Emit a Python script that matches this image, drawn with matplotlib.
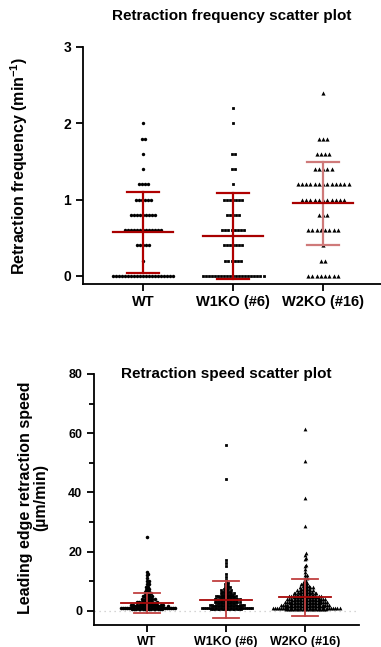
import numpy as np
import matplotlib
matplotlib.use('Agg')
import matplotlib.pyplot as plt

plt.rcParams['font.family'] = ['Liberation Sans', 'DejaVu Sans']
plt.rcParams['font.weight'] = 'bold'
plt.rcParams['axes.labelweight'] = 'bold'
plt.rcParams['mathtext.fontset'] = 'custom'
plt.rcParams['mathtext.rm'] = 'Liberation Sans:bold'
plt.rcParams['mathtext.default'] = 'rm'

groups = ['WT', 'W1KO (#6)', 'W2KO (#16)']
markers = ['o', 's', '^']

# retraction frequency (min^-1): value levels and how many cells sit on each
freq_levels = [0.0, 0.2, 0.4, 0.6, 0.8, 1.0, 1.2, 1.4, 1.6, 1.8, 2.0, 2.2, 2.4]
wt_freq_counts = [21, 1, 5, 13, 9, 6, 4, 1, 1, 2, 1, 0, 0]
w1_freq_counts = [21, 6, 7, 8, 5, 7, 1, 2, 2, 0, 1, 1, 0]
w2_freq_counts = [8, 2, 1, 8, 3, 11, 13, 5, 4, 3, 0, 0, 1]
freq_mean = [0.57, 0.52, 0.95]
freq_sd_lo = [0.04, -0.04, 0.40]
freq_sd_hi = [1.10, 1.09, 1.49]

# retraction speed (um/min)
wt_speed_vals = [0.5, 1, 1.5, 2, 2.5, 3, 3.5, 4, 4.5, 5, 5.5, 6, 6.5, 7, 7.5, 8,
                 9, 10, 11, 12, 12.5, 13, 25]
wt_speed_counts = [15, 21, 16, 10, 8, 7, 5, 5, 4, 4, 3, 3, 3, 2, 2, 2,
                   2, 2, 1, 1, 1, 1, 1]
w1_speed_vals = [0.5, 1, 1.5, 2, 2.5, 3, 3.5, 4, 4.5, 5, 5.5, 6, 6.5, 7, 7.5, 8,
                 8.5, 9, 9.5, 10.5, 11.5, 12.5, 15, 16, 17, 44.5, 56]
w1_speed_counts = [15, 19, 14, 11, 9, 9, 9, 9, 8, 7, 6, 5, 5, 4, 3, 3,
                   2, 2, 2, 1, 1, 1, 1, 1, 1, 1, 1]
w2_speed_vals = [0.5, 1, 1.5, 2, 2.5, 3, 3.5, 4, 4.5, 5, 5.5, 6, 6.5, 7, 7.5, 8,
                 8.5, 9, 9.5, 10, 11, 12, 13, 14, 15, 15.5, 17.5, 18, 19, 19.5,
                 28.5, 38, 50.5, 61.5]
w2_speed_counts = [20, 24, 19, 16, 15, 15, 14, 13, 12, 11, 9, 8, 7, 6, 5, 5,
                   4, 3, 3, 2, 2, 2, 1, 1, 1, 1, 1, 1, 1, 1,
                   1, 1, 1, 1]
speed_mean = [2.7, 3.8, 4.5]
speed_sd_lo = [-0.7, -2.5, -1.8]
speed_sd_hi = [6.1, 10.1, 10.6]

W, H = 381, 647
fig = plt.figure(figsize=(W / 100, H / 100), dpi=100)


def px_scale(ax):
    pos = ax.get_position()
    x0, x1 = ax.get_xlim()
    y0, y1 = ax.get_ylim()
    return pos.width * W / (x1 - x0), pos.height * H / (y1 - y0)


def row_offsets(values, spacing):
    # GraphPad style: each value level gets a centred row
    out = np.zeros(len(values))
    for v in np.unique(values):
        idx = np.where(values == v)[0]
        n = len(idx)
        out[idx] = (np.arange(n) - (n - 1) / 2) * spacing
    return out


def swarm_offsets(ypx, d):
    order = np.argsort(ypx)
    xs = np.zeros(len(ypx))
    placed_x, placed_y = [], []
    step = d / 3
    for i in order:
        y = ypx[i]
        px = np.array(placed_x)
        py = np.array(placed_y)
        near = np.abs(py - y) < d if len(py) else np.array([], bool)
        nx, ny = px[near], py[near]
        k = 0
        while True:
            for cand in ([0.0] if k == 0 else [k * step, -k * step]):
                if len(nx) == 0 or np.all((nx - cand) ** 2 + (ny - y) ** 2 >= d * d):
                    xs[i] = cand
                    break
            else:
                k += 1
                continue
            break
        placed_x.append(xs[i])
        placed_y.append(y)
    return xs


def style_axes(ax):
    for s in ['top', 'right']:
        ax.spines[s].set_visible(False)
    for s in ['left', 'bottom']:
        ax.spines[s].set_linewidth(1.3)
    ax.tick_params(width=1.3, length=5)
    ax.set_xticks(range(3))
    ax.set_xticklabels(groups)


def error_bars(ax, means, lo, hi, mean_hw, cap_hw, lw, colors):
    for i in range(3):
        c_mean, c_sd = colors[i]
        ax.plot([i, i], [lo[i], hi[i]], color=c_sd, lw=lw, zorder=3)
        ax.plot([i - cap_hw, i + cap_hw], [lo[i], lo[i]], color=c_sd, lw=lw, zorder=3)
        ax.plot([i - cap_hw, i + cap_hw], [hi[i], hi[i]], color=c_sd, lw=lw, zorder=3)
        ax.plot([i - mean_hw, i + mean_hw], [means[i], means[i]], color=c_mean, lw=lw, zorder=3)


# ---------- top: retraction frequency ----------
ax1 = fig.add_axes([83 / W, 1 - 284 / H, 298 / W, 237 / H])
ax1.set_xlim(-0.667, 2.644)
ax1.set_ylim(-0.105, 3)
style_axes(ax1)
ax1.set_yticks([0, 1, 2, 3])
ax1.tick_params(axis='y', labelsize=10)
ax1.tick_params(axis='x', labelsize=10.5, pad=3)
sx, sy = px_scale(ax1)

freq_counts = [wt_freq_counts, w1_freq_counts, w2_freq_counts]
msize = [6, 4.0, 9]
row_gap = [3.0, 3.05, 4.25]
for i, counts in enumerate(freq_counts):
    vals = np.repeat(freq_levels, counts)
    off = row_offsets(vals, row_gap[i]) / sx
    pts = ax1.scatter(i + off, vals, s=msize[i], marker=markers[i], color='black',
                      linewidths=0, zorder=2)
    pts.set_snap(False)

top_colors = [('#a80000', '#b00000'), ('#a80000', '#b00000'), ('#a80000', '#cf7a7a')]
error_bars(ax1, freq_mean, freq_sd_lo, freq_sd_hi, 0.333, 0.18, 1.6, top_colors)
ax1.set_ylabel(r'Retraction frequency (min$^{-1}$)', fontsize=11.5)
ax1.yaxis.set_label_coords(-0.178, 0.5)
ax1.text(0.5, 1 + 31 / 237, 'Retraction frequency scatter plot', transform=ax1.transAxes,
         ha='center', va='center', fontsize=11)

# ---------- bottom: retraction speed ----------
ax2 = fig.add_axes([94 / W, 1 - 625 / H, 265 / W, 251 / H])
ax2.set_xlim(-0.67, 2.684)
ax2.set_ylim(-4.8, 80)
style_axes(ax2)
ax2.set_yticks([0, 20, 40, 60, 80])
ax2.set_yticks([10, 30, 50, 70], minor=True)
ax2.tick_params(axis='y', which='minor', length=3.5, width=1.3)
ax2.tick_params(axis='y', labelsize=9)
ax2.tick_params(axis='x', labelsize=9, pad=3)
ax2.axhline(0, color='#c8c8c8', lw=0.9, ls=(0, (1, 3)), zorder=1)
sx, sy = px_scale(ax2)

speed_sets = [(wt_speed_vals, wt_speed_counts), (w1_speed_vals, w1_speed_counts),
              (w2_speed_vals, w2_speed_counts)]
for i, (v, c) in enumerate(speed_sets):
    vals = np.repeat(v, c).astype(float)
    off = swarm_offsets(vals * sy, 1.8) / sx
    pts = ax2.scatter(i + off, vals, s=[6.5, 4.0, 7.5][i], marker=markers[i], color='black',
                      linewidths=0, zorder=2)
    pts.set_snap(False)

bot_colors = [('#a80808', '#c04040'), ('#a80808', '#c04040'), ('#a80808', '#c04040')]
error_bars(ax2, speed_mean, speed_sd_lo, speed_sd_hi, 0.33, 0.165, 1.3, bot_colors)
ax2.set_ylabel('Leading edge retraction speed\n(\u00b5m/min)', fontsize=11.5, linespacing=1.0)
ax2.yaxis.set_label_coords(-0.172, 0.506)
ax2.text(0.5, 1.0, 'Retraction speed scatter plot', transform=ax2.transAxes,
         ha='center', va='center', fontsize=11)

fig.savefig('out.png', dpi=100)
